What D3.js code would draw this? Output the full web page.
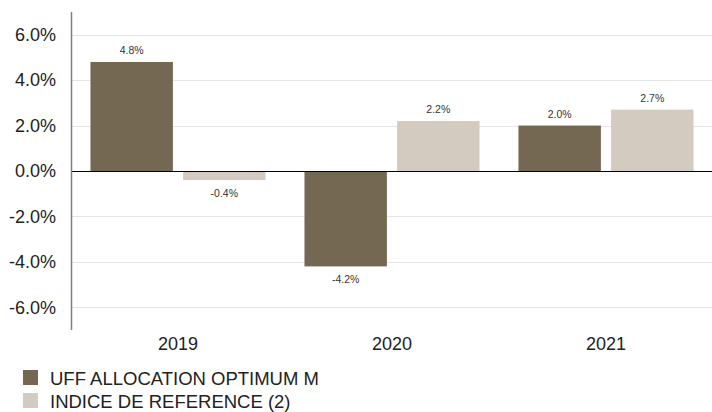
<!DOCTYPE html>
<html>
<head>
<meta charset="utf-8">
<script src="https://cdn.jsdelivr.net/npm/d3@7"></script>
<style>
  body { margin: 0; background: #fff; }
  text { font-family: "Liberation Sans", Arial, sans-serif; }
</style>
</head>
<body>
<svg id="chart" width="712" height="412"></svg>
<script>
// Years and series values (in %)
var years = ["2019", "2020", "2021"];
var fundValues = [4.8, -4.2, 2.0];
var indexValues = [-0.4, 2.2, 2.7];
var seriesNames = ["UFF ALLOCATION OPTIMUM M", "INDICE DE REFERENCE (2)"];
var seriesColours = ["#756853", "#d3cac0"];
var yTicks = [-6, -4, -2, 0, 2, 4, 6];

var svg = d3.select("#chart");

// Scales
var y = d3.scaleLinear().domain([-7, 7]).range([330, 12]);
var x0 = d3.scaleBand().domain(years).range([71, 713])
  .paddingInner(0.182).paddingOuter(0.091);
var x1 = d3.scaleBand().domain([0, 1]).range([0, x0.bandwidth()])
  .paddingInner(0.11);

// Gridlines
svg.append("g").selectAll("line")
  .data(yTicks.filter(function(d) { return d !== 0; }))
  .enter().append("line")
  .attr("x1", 71).attr("x2", 712)
  .attr("y1", function(d) { return Math.round(y(d)) + 0.5; })
  .attr("y2", function(d) { return Math.round(y(d)) + 0.5; })
  .attr("stroke", "#e6e6e6").attr("stroke-width", 1);

// Y axis labels
svg.append("g").selectAll("text")
  .data(yTicks)
  .enter().append("text")
  .attr("x", 56)
  .attr("y", function(d) { return y(d); })
  .attr("dy", "0.35em")
  .attr("text-anchor", "end")
  .attr("font-size", 18)
  .attr("fill", "#222")
  .text(function(d) { return d.toFixed(1) + "%"; });

// Bars
var rows = years.map(function(yr, i) {
  return { year: yr, values: [fundValues[i], indexValues[i]] };
});

var groups = svg.append("g").selectAll("g")
  .data(rows)
  .enter().append("g")
  .attr("transform", function(d) { return "translate(" + x0(d.year) + ",0)"; });

var bars = groups.selectAll("g")
  .data(function(d) { return d.values.map(function(v, k) { return { k: k, v: v }; }); })
  .enter().append("g");

bars.append("rect")
  .attr("x", function(d) { return x1(d.k); })
  .attr("width", x1.bandwidth())
  .attr("y", function(d) { return y(Math.max(0, d.v)); })
  .attr("height", function(d) { return Math.abs(y(d.v) - y(0)); })
  .attr("fill", function(d) { return seriesColours[d.k]; });

bars.append("text")
  .attr("x", function(d) { return x1(d.k) + x1.bandwidth() / 2; })
  .attr("y", function(d) { return d.v >= 0 ? y(d.v) - 8 : y(d.v) + 17; })
  .attr("text-anchor", "middle")
  .attr("font-size", 10.5)
  .attr("fill", "#333")
  .text(function(d) { return d.v.toFixed(1) + "%"; });

// Zero line and y axis line
svg.append("line")
  .attr("x1", 71).attr("x2", 712)
  .attr("y1", Math.round(y(0)) + 0.5).attr("y2", Math.round(y(0)) + 0.5)
  .attr("stroke", "#000").attr("stroke-width", 1);

svg.append("line")
  .attr("x1", 71.5).attr("x2", 71.5)
  .attr("y1", y(7)).attr("y2", y(-7))
  .attr("stroke", "#808080").attr("stroke-width", 1.5);

// X labels
svg.append("g").selectAll("text")
  .data(years)
  .enter().append("text")
  .attr("x", function(d) { return x0(d) + x0.bandwidth() / 2; })
  .attr("y", 350)
  .attr("text-anchor", "middle")
  .attr("font-size", 18)
  .attr("fill", "#222")
  .text(function(d) { return d; });

// Legend
var legend = svg.append("g").selectAll("g")
  .data(seriesNames)
  .enter().append("g")
  .attr("transform", function(d, i) { return "translate(23," + (370 + i * 23) + ")"; });

legend.append("rect")
  .attr("width", 15).attr("height", 15)
  .attr("fill", function(d, i) { return seriesColours[i]; });

legend.append("text")
  .attr("x", 27).attr("y", 15)
  .attr("font-size", 18.5)
  .attr("fill", "#222")
  .text(function(d) { return d; });
</script>
</body>
</html>
